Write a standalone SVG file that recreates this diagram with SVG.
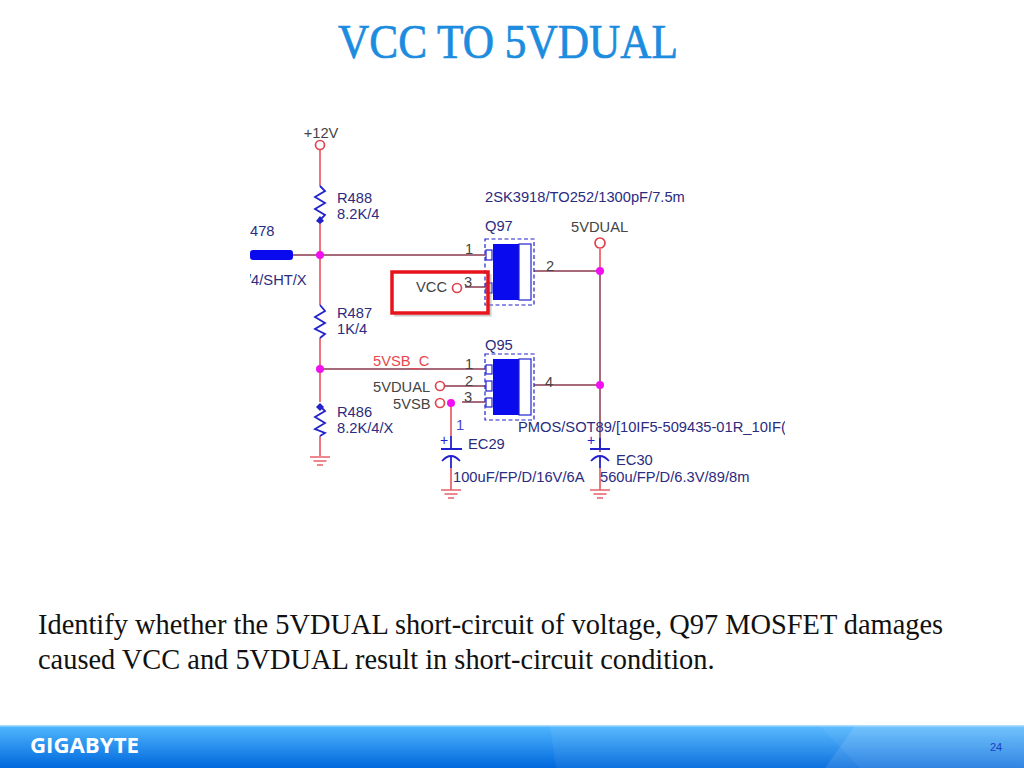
<svg xmlns="http://www.w3.org/2000/svg" width="1024" height="768" viewBox="0 0 1024 768">
<style>
.t{font-family:"Liberation Sans",Arial,sans-serif;font-size:14.700px;fill:#2b2b80}
.k{font-family:"Liberation Sans",Arial,sans-serif;font-size:14.700px;fill:#444}
.s{font-family:"Liberation Serif","Times New Roman",serif;font-size:28.400px;fill:#111}
.w{fill:none;stroke:#e8474f;stroke-width:1.5}
.n{fill:none;stroke:#8a3a50;stroke-width:1.5}
.b{fill:none;stroke:#2222cc;stroke-width:1.800}
.o{fill:#fff;stroke:#e0454f;stroke-width:1.700}
.j{fill:#f010f0}
.d{fill:none;stroke:#2222cc;stroke-width:1.200;stroke-dasharray:4 2.500}
.g{fill:none;stroke:#e8606a;stroke-width:1.400}
.p{fill:#fff;stroke:#2222cc;stroke-width:1.200}
</style>
<defs>
<linearGradient id="bar" x1="0" y1="0" x2="0" y2="1"><stop offset="0" stop-color="#52b8ff"/><stop offset="1" stop-color="#0068dc"/></linearGradient>
<clipPath id="pm"><rect x="510" y="415" width="275" height="25"/></clipPath>
<clipPath id="sht"><rect x="250" y="270" width="70" height="20"/></clipPath>
<clipPath id="v12"><rect x="295" y="127" width="50" height="20"/></clipPath>
<g id="gnd"><path class="g" d="M-10 0H10M-6.500 4H6.500M-3 8H3"/></g>
<g id="mos"><rect class="d" x="0" y="0" width="49" height="66"/><rect x="8" y="5" width="26" height="56" fill="#0a0aee"/><rect x="34" y="5" width="12" height="56" fill="#fff" stroke="#2222cc" stroke-width="1.200"/></g>
</defs>
<rect width="1024" height="768" fill="#fff"/>
<text x="508" y="58" text-anchor="middle" font-family="Liberation Serif,Times New Roman,serif" font-size="48" fill="#1c8cdf" stroke="#1c8cdf" stroke-width=".7" textLength="340" lengthAdjust="spacingAndGlyphs">VCC TO 5VDUAL</text>

<g id="connectors">
<path class="w" d="M320 150V186M320 222V305M320 338V402M320 436V456"/>
<path class="n" d="M293 255H485M320 369H485M445 386H485M462 402H485M465 287H485M534 271H600M534 385H600M600 271V452"/>
<path class="w" d="M600 249V271M451 402V436M451 468V490M600 468V490"/>
<path class="b" d="M320 186L325 191L315 197L325 203L315 209L325 215L320 220"/>
<path d="M320 216L324 221L320 224L316 221Z" fill="#2222cc"/>
<path class="b" d="M320 305L325 311L315 317L325 323L315 329L325 334L320 338"/>
<path class="b" d="M320 406L325 411L315 417L325 423L315 429L325 433L320 436"/>
<path d="M320 403L324 407L320 411L316 407Z" fill="#2222cc"/>
</g>

<g id="n12v"><text class="k" x="321" y="138" text-anchor="middle" clip-path="url(#v12)">+12V</text><circle class="o" cx="320" cy="145" r="4.500"/></g>
<g id="r488"><text class="t" x="337" y="203">R488</text><text class="t" x="337" y="219">8.2K/4</text></g>
<g id="r487"><text class="t" x="337" y="318">R487</text><text class="t" x="337" y="334">1K/4</text></g>
<g id="r486"><text class="t" x="337" y="417">R486</text><text class="t" x="337" y="433">8.2K/4/X</text><use href="#gnd" x="320" y="457"/></g>
<g id="j478"><rect x="250" y="250" width="43" height="10" rx="3" fill="#0a0aee"/><text class="t" x="250" y="236">478</text><text class="t" x="247" y="285" clip-path="url(#sht)">/4/SHT/X</text></g>

<g id="q97">
<text class="t" x="485" y="231">Q97</text><text class="t" x="485" y="202">2SK3918/TO252/1300pF/7.5m</text>
<use href="#mos" x="485" y="239"/>
<rect class="p" x="486" y="250" width="6" height="10"/>
<rect class="p" x="486" y="283" width="6" height="10"/>
<text class="k" x="465" y="254">1</text><text class="k" x="464" y="287">3</text><text class="k" x="546" y="271">2</text>
</g>
<g id="vcc"><text class="k" x="416" y="292">VCC</text><circle class="o" cx="457" cy="288" r="4.500"/></g>
<path d="M394 315.500H490.500V274" fill="none" stroke="#999" stroke-width="2" opacity=".5"/>
<rect id="highlight" x="392" y="272" width="96" height="41" fill="none" stroke="#e8141c" stroke-width="3.500"/>
<g id="n5vdual"><text class="k" x="571" y="232">5VDUAL</text><circle class="o" cx="600" cy="243" r="5"/></g>

<g id="q95">
<text class="t" x="485" y="350">Q95</text>
<use href="#mos" x="485" y="354"/>
<rect class="p" x="486" y="365" width="6" height="9"/>
<rect class="p" x="486" y="381" width="6" height="10"/>
<rect class="p" x="486" y="398" width="6" height="9"/>
<text class="k" x="465" y="369">1</text><text class="k" x="465" y="386">2</text><text class="k" x="464" y="402">3</text><text class="k" x="545" y="387">4</text>
<text class="t" x="518" y="432" clip-path="url(#pm)">PMOS/SOT89/[10IF5-509435-01R_10IF(</text>
</g>
<g id="n5vsbc"><text x="373" y="366" font-family="Liberation Sans,Arial,sans-serif" font-size="14.700" fill="#e8474f">5VSB_C</text></g>
<g id="n5vdual2"><text class="k" x="373" y="392">5VDUAL</text><circle class="o" cx="440" cy="386" r="4.500"/></g>
<g id="n5vsb"><text class="k" x="393" y="409">5VSB</text><circle class="o" cx="440" cy="403" r="4.500"/></g>

<g id="ec29"><text x="456" y="430" font-family="Liberation Sans,Arial,sans-serif" font-size="14.700" fill="#4444cc">1</text><text x="440" y="445" font-family="Liberation Sans,Arial,sans-serif" font-size="14" fill="#2222cc">+</text><path class="b" d="M441 449H462M442 461Q451 451 460 461M451 436V449M451 456V468"/><text class="t" x="468" y="449">EC29</text><text class="t" x="453" y="482">100uF/FP/D/16V/6A</text><use href="#gnd" x="451" y="490"/></g>
<g id="ec30"><text x="587" y="445" font-family="Liberation Sans,Arial,sans-serif" font-size="14" fill="#2222cc">+</text><path class="b" d="M590 449H610M591 461Q600 451 609 461M600 438V449M600 456V468"/><text class="t" x="616" y="465">EC30</text><text class="t" x="600" y="482">560u/FP/D/6.3V/89/8m</text><use href="#gnd" x="600" y="490"/></g>

<g id="junctions">
<circle class="j" cx="320" cy="255" r="4"/><circle class="j" cx="320" cy="369" r="4"/><circle class="j" cx="600" cy="271" r="4"/><circle class="j" cx="600" cy="385" r="4"/><circle class="j" cx="451" cy="403" r="4"/>
</g>

<text class="s" x="38" y="634">Identify whether the 5VDUAL short-circuit of voltage, Q97 MOSFET damages</text>
<text class="s" x="38" y="669">caused VCC and 5VDUAL result in short-circuit condition.</text>

<g id="footer">
<rect y="725" width="1024" height="43" fill="url(#bar)"/>
<rect y="725" width="1024" height="1.500" fill="#a8dcff"/>
<path d="M550 726H1024V768H556Z" fill="#fff" opacity=".06"/>
<path d="M820 726L860 768H1024V726Z" fill="#fff" opacity=".05"/>
<path d="M855 726L825 768H1024V726Z" fill="#fff" opacity=".1"/>
<text x="30" y="753" font-family="Open Sans,Liberation Sans,sans-serif" font-weight="700" font-size="21" fill="#fff" textLength="109" lengthAdjust="spacingAndGlyphs">GIGABYTE</text>
<text x="996" y="751" text-anchor="middle" font-family="Liberation Sans,sans-serif" font-size="11" fill="#1a3fc0">24</text>
</g>
</svg>
